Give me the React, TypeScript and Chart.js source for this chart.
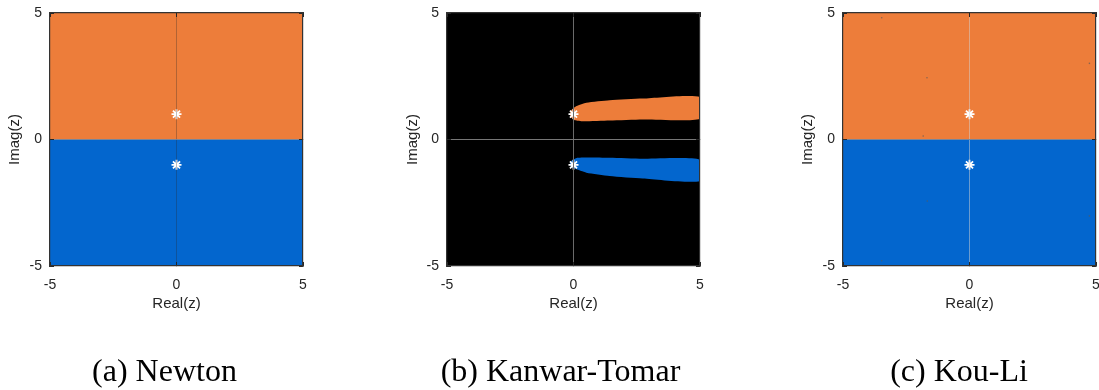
import React, { useEffect, useRef } from 'react';
import { Chart, registerables } from 'chart.js';

Chart.register(...registerables);

// ---- data ----
const axisMin = -5;
const axisMax = 5;
const tickStep = 5;

// roots of z^2 + 1 (white asterisks)
const rootX = [0, 0];
const rootY = [1, -1];

// Newton / Kou-Li: basin boundary along the real axis
const splitX = [-5, 5];
const splitY = [0, 0];

// Kanwar-Tomar: divergent (black) region covers the plane
const blackTopX = [-5, 5];
const blackTopY = [5, 5];

// Kanwar-Tomar basin of +i (orange), closed outline
const ktOrangeX = [-0.15, -0.08, 0.12, 0.51, 1.43, 2.74, 5.0, 5.0, 2.74, 1.43, 0.38, 0.05, -0.1];
const ktOrangeY = [1.0, 1.16, 1.32, 1.45, 1.55, 1.62, 1.68, 0.82, 0.79, 0.75, 0.72, 0.76, 0.88];

// Kanwar-Tomar basin of -i (blue), closed outline
const ktBlueX = [-0.15, -0.08, 0.12, 0.51, 1.43, 2.74, 5.0, 5.0, 2.74, 1.43, 0.51, 0.05, -0.1];
const ktBlueY = [-0.98, -0.84, -0.73, -0.71, -0.72, -0.76, -0.8, -1.64, -1.54, -1.44, -1.31, -1.15, -1.08];

// Kou-Li: isolated stray points
const speckX = [-3.47, -1.68, -1.83, 4.74, -1.67, 4.74, -3.47];
const speckY = [4.81, 2.44, 0.14, 3.01, -2.43, -3.02, -4.79];

const captions = ['(a) Newton', '(b) Kanwar-Tomar', '(c) Kou-Li'];

// ---- styles ----
const ORANGE = '#ED7D3A';
const BLUE = '#0366CE';
const BLACK = '#000000';
const AXIS = '#262626';
const PLOT = 253;
const TOP = 13;
const CANVAS_H = 390;
const TITLE_H = 47;

const pts = (xs: number[], ys: number[]) => xs.map((x, i) => ({ x, y: ys[i] }));

const area = (xs: number[], ys: number[], color: string, fill: any, order: number, tension = 0) => ({
  data: pts(xs, ys),
  borderColor: color,
  backgroundColor: color,
  borderWidth: 0,
  fill,
  pointRadius: 0,
  tension,
  order,
});

const stars = () => ({
  data: pts(rootX, rootY),
  showLine: false,
  pointStyle: 'star',
  pointRadius: 5,
  pointBorderColor: '#ffffff',
  pointBackgroundColor: '#ffffff',
  pointBorderWidth: 1.8,
  order: 0,
});

const specks = () => ({
  data: pts(speckX, speckY),
  showLine: false,
  pointRadius: 0.8,
  pointBorderWidth: 0,
  pointBackgroundColor: 'rgba(90,90,90,0.7)',
  order: 1,
});

type PanelProps = {
  left: number;
  width: number;
  axisW: number;
  yTitlePad: number;
  caption: string;
  datasets: any[];
  xZero: string;
  yZero: string;
};

function Panel(p: PanelProps) {
  const ref = useRef<HTMLCanvasElement>(null);
  useEffect(() => {
    const xAxisH = CANVAS_H - TITLE_H - (TOP + PLOT);
    const rightGap = p.width - p.axisW - PLOT;
    const tickFont = { family: 'Liberation Sans, Arial, sans-serif', size: 14 };
    const titleFont = { family: 'Liberation Sans, Arial, sans-serif', size: 15 };
    const gridFor = (zero: string) => ({
      display: true,
      drawOnChartArea: true,
      drawTicks: true,
      tickLength: -4,
      tickColor: AXIS,
      tickWidth: 1,
      lineWidth: 1,
      z: 1,
      color: (ctx: any) => (ctx.tick && ctx.tick.value === 0 ? zero : 'rgba(0,0,0,0)'),
    });
    const border = { display: true, color: '#333333', width: 1.2, z: 2 };
    const chart = new Chart(ref.current as HTMLCanvasElement, {
      type: 'line',
      data: { datasets: p.datasets },
      options: {
        animation: false,
        responsive: false,
        maintainAspectRatio: false,
        events: [],
        layout: { padding: 0 },
        plugins: {
          legend: { display: false },
          tooltip: { enabled: false },
          title: {
            display: true,
            text: p.caption,
            position: 'bottom',
            color: '#000000',
            font: { family: 'Liberation Serif, Times New Roman, serif', size: 32, weight: 'normal', lineHeight: 1 },
            padding: { top: TITLE_H - 32 - 1, bottom: 1 },
          },
        },
        scales: {
          x: {
            type: 'linear',
            position: 'bottom',
            min: axisMin,
            max: axisMax,
            ticks: { stepSize: tickStep, padding: 14.6, color: AXIS, font: tickFont, maxRotation: 0, autoSkip: false, z: 2 },
            grid: gridFor(p.xZero),
            border,
            title: { display: true, text: 'Real(z)', color: AXIS, font: titleFont, padding: { top: 0, bottom: 30.5 } },
            afterFit: (s: any) => { s.height = xAxisH; s.paddingLeft = 0; s.paddingRight = 0; },
          },
          y: {
            type: 'linear',
            position: 'left',
            min: axisMin,
            max: axisMax,
            ticks: { stepSize: tickStep, padding: 12, color: AXIS, font: tickFont, autoSkip: false, z: 2 },
            grid: gridFor(p.yZero),
            border,
            title: { display: true, text: 'Imag(z)', color: AXIS, font: titleFont, padding: { top: p.yTitlePad, bottom: 0 } },
            afterFit: (s: any) => { s.width = p.axisW; s.paddingTop = 0; s.paddingBottom = 0; },
          },
          x2: {
            type: 'linear',
            position: 'top',
            min: axisMin,
            max: axisMax,
            ticks: { display: false, stepSize: tickStep },
            grid: gridFor('rgba(0,0,0,0)'),
            border,
            afterFit: (s: any) => { s.height = TOP; s.paddingLeft = 0; s.paddingRight = 0; },
          },
          y2: {
            type: 'linear',
            position: 'right',
            min: axisMin,
            max: axisMax,
            ticks: { display: false, stepSize: tickStep },
            grid: gridFor('rgba(0,0,0,0)'),
            border,
            afterFit: (s: any) => { s.width = rightGap; s.paddingTop = 0; s.paddingBottom = 0; },
          },
        },
      } as any,
    });
    return () => chart.destroy();
  }, []);
  return (
    <canvas
      ref={ref}
      width={p.width}
      height={CANVAS_H}
      style={{ position: 'absolute', left: p.left, top: 0, width: p.width, height: CANVAS_H }}
    />
  );
}

export default function App() {
  const newtonSets = [
    stars(),
    area(splitX, splitY, ORANGE, 'end', 3),
    area(splitX, splitY, BLUE, 'start', 3),
  ];
  const ktSets = [
    stars(),
    area(ktOrangeX, ktOrangeY, ORANGE, 'shape', 2, 0.2),
    area(ktBlueX, ktBlueY, BLUE, 'shape', 2, 0.2),
    area(blackTopX, blackTopY, BLACK, 'start', 3),
  ];
  const kouSets = [
    stars(),
    specks(),
    area(splitX, splitY, ORANGE, 'end', 3),
    area(splitX, splitY, BLUE, 'start', 3),
  ];
  return (
    <div style={{ position: 'fixed', left: 0, top: 0, width: 1099, height: 390, overflow: 'hidden', background: '#ffffff' }}>
      <Panel left={0} width={329} axisW={50} yTitlePad={6} caption={captions[0]} datasets={newtonSets}
        xZero="rgba(40,40,40,0.3)" yZero="rgba(110,130,155,0.85)" />
      <Panel left={400} width={321} axisW={47} yTitlePad={3.5} caption={captions[1]} datasets={ktSets}
        xZero="#6a6a6a" yZero="#777777" />
      <Panel left={800} width={318} axisW={43} yTitlePad={-1.5} caption={captions[2]} datasets={kouSets}
        xZero="rgba(210,210,210,0.5)" yZero="rgba(110,130,155,0.85)" />
    </div>
  );
}
